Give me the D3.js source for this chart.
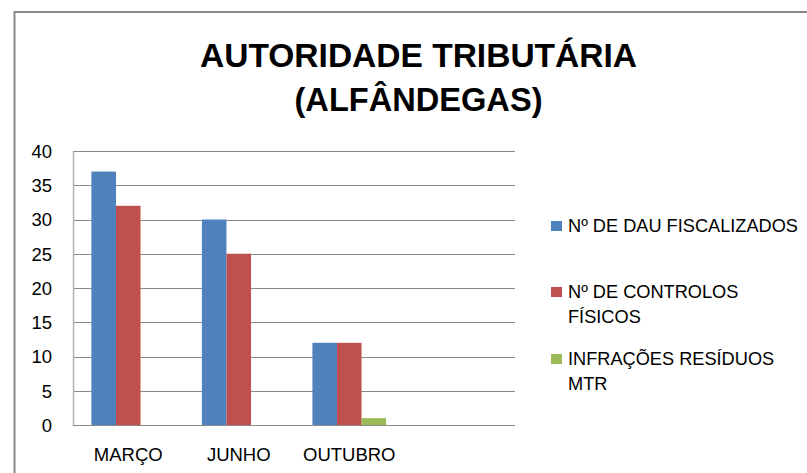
<!DOCTYPE html>
<html>
<head>
<meta charset="utf-8">
<script src="https://cdn.jsdelivr.net/npm/d3@7"></script>
<style>
  html, body { margin: 0; padding: 0; background: #fff; }
  svg { display: block; }
  text { font-family: "Liberation Sans", Arial, sans-serif; fill: #000; }
</style>
</head>
<body>
<svg id="chart" width="807" height="473"></svg>
<script>
// ---- data ----
const titleLines = ["AUTORIDADE TRIBUTÁRIA", "(ALFÂNDEGAS)"];
const categories = ["MARÇO", "JUNHO", "OUTUBRO", ""];
const seriesNames = ["Nº DE DAU FISCALIZADOS", "Nº DE CONTROLOS FÍSICOS", "INFRAÇÕES RESÍDUOS MTR"];
const dauFiscalizados = [37, 30, 12, null];
const controlosFisicos = [32, 25, 12, null];
const infracoesResiduos = [0, 0, 1, null];
const yTicks = [0, 5, 10, 15, 20, 25, 30, 35, 40];
const legendLines = [["Nº DE DAU FISCALIZADOS"], ["Nº DE CONTROLOS", "FÍSICOS"], ["INFRAÇÕES RESÍDUOS", "MTR"]];
const colors = ["#4F81BD", "#C0504D", "#9BBB59"];

const seriesValues = [dauFiscalizados, controlosFisicos, infracoesResiduos];

const svg = d3.select("#chart");

// frame
svg.append("path")
  .attr("d", "M14.5,473 L14.5,12 L807,12")
  .attr("fill", "none").attr("stroke", "#898989").attr("stroke-width", 2);

// title
const titleW = [437, 248];
svg.append("g").selectAll("text").data(titleLines).join("text")
  .attr("x", 418.5)
  .attr("y", (d, i) => 67 + i * 44)
  .attr("text-anchor", "middle")
  .attr("font-size", 34).attr("font-weight", "bold")
  .attr("textLength", (d, i) => titleW[i])
  .attr("lengthAdjust", "spacingAndGlyphs")
  .text(d => d);

// scales (Excel-like: gap width 150% of bar width; category width = 4.5 bars)
const plot = { left: 73, right: 515, top: 151, bottom: 425 };
const catW = (plot.right - plot.left) / categories.length;
const barW = catW / 4.5;
const xCat = d3.scaleBand().domain(d3.range(categories.length)).range([plot.left, plot.right]).padding(0);
const xSer = d3.scaleBand().domain(d3.range(seriesValues.length)).range([0.75 * barW, catW - 0.75 * barW]).padding(0);
const y = d3.scaleLinear().domain([0, 40]).range([plot.bottom, plot.top]);

// gridlines
svg.append("g").selectAll("line").data(yTicks).join("line")
  .attr("x1", plot.left).attr("x2", plot.right)
  .attr("y1", d => Math.round(y(d)) + 0.5).attr("y2", d => Math.round(y(d)) + 0.5)
  .attr("stroke", "#8a8a8a").attr("stroke-width", 1);

// vertical axis line
svg.append("line")
  .attr("x1", plot.left + 0.5).attr("x2", plot.left + 0.5)
  .attr("y1", plot.top).attr("y2", plot.bottom)
  .attr("stroke", "#b5b5b5").attr("stroke-width", 1.5);

// y axis labels
const yAxis = d3.axisLeft(y).tickValues(yTicks).tickSize(0).tickPadding(0);
const yg = svg.append("g").attr("transform", `translate(${52},0)`).call(yAxis);
yg.select(".domain").remove();
yg.selectAll("text").attr("font-size", 18.5).attr("font-family", "'Liberation Sans', Arial, sans-serif").attr("fill", "#000").attr("dy", "0.35em");

// bars
const groups = svg.append("g").selectAll("g").data(seriesValues).join("g")
  .attr("fill", (d, i) => colors[i]);
groups.each(function(vals, si) {
  d3.select(this).selectAll("rect").data(vals.map((v, ci) => ({ v, ci })).filter(d => d.v !== null && d.v > 0)).join("rect")
    .attr("x", d => xCat(d.ci) + xSer(si))
    .attr("width", xSer.bandwidth())
    .attr("y", d => y(d.v))
    .attr("height", d => y(0) - y(d.v));
});

// category labels
const xAxis = d3.axisBottom(xCat).tickFormat(i => categories[i]).tickSize(0).tickPadding(0);
const xg = svg.append("g").attr("transform", `translate(0,${461})`).call(xAxis);
xg.select(".domain").remove();
xg.selectAll("text").attr("font-size", 18.5).attr("font-family", "'Liberation Sans', Arial, sans-serif").attr("fill", "#000").attr("dy", 0);

// legend
const legendTop = [232, 298, 365];
const lg = svg.append("g").selectAll("g").data(legendLines).join("g")
  .attr("transform", (d, i) => `translate(551,${legendTop[i]})`);
lg.append("rect").attr("x", 0).attr("y", -11).attr("width", 11).attr("height", 10)
  .attr("fill", (d, i) => colors[i]);
lg.each(function(lines) {
  d3.select(this).selectAll("text").data(lines).join("text")
    .attr("x", 17).attr("y", (d, i) => i * 25)
    .attr("font-size", 18.2).attr("fill", "#1a1a1a")
    .text(d => d);
});
</script>
</body>
</html>
